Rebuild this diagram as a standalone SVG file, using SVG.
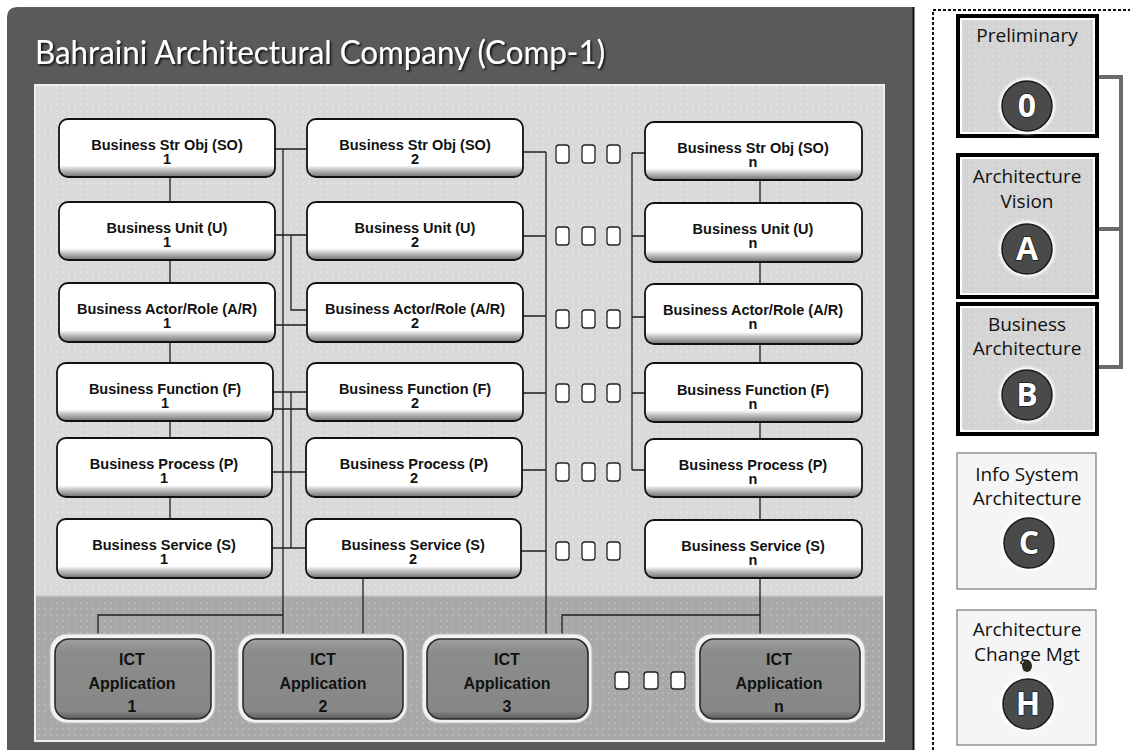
<svg xmlns="http://www.w3.org/2000/svg" width="1130" height="750" viewBox="0 0 1130 750">
<defs>
  <pattern id="dots" width="6" height="6" patternUnits="userSpaceOnUse">
    <rect width="6" height="6" fill="#d9d9d9"/>
    <circle cx="3" cy="3" r="0.7" fill="#f4f4f4"/>
  </pattern>
  <pattern id="dotsDark" width="6" height="6" patternUnits="userSpaceOnUse">
    <rect width="6" height="6" fill="#a8a8a8"/>
    <circle cx="3" cy="3" r="0.7" fill="#cfcfcf"/>
  </pattern>
  <pattern id="dotsPanel" width="6" height="6" patternUnits="userSpaceOnUse">
    <rect width="6" height="6" fill="#d4d4d4"/>
    <circle cx="3" cy="3" r="0.7" fill="#ececec"/>
  </pattern>
  <linearGradient id="boxGrad" x1="0" y1="0" x2="0" y2="1">
    <stop offset="0" stop-color="#ffffff"/>
    <stop offset="0.8" stop-color="#ffffff"/>
    <stop offset="0.87" stop-color="#c8c8c8"/>
    <stop offset="1" stop-color="#707070"/>
  </linearGradient>
  <linearGradient id="ictGrad" x1="0" y1="0" x2="0" y2="1">
    <stop offset="0" stop-color="#a0a0a0"/>
    <stop offset="0.15" stop-color="#8c8c8c"/>
    <stop offset="0.9" stop-color="#878787"/>
    <stop offset="1" stop-color="#5a5a5a"/>
  </linearGradient>
  <filter id="tshadow" x="-5%" y="-30%" width="110%" height="160%">
    <feDropShadow dx="1.5" dy="1.5" stdDeviation="1.2" flood-color="#000" flood-opacity="0.9"/>
  </filter>
  <filter id="glow" x="-30%" y="-30%" width="160%" height="160%">
    <feGaussianBlur stdDeviation="1.5"/>
  </filter>
  <style>
    .title { font-family: "Lato", "Liberation Sans", sans-serif; font-size: 33px; fill: #ffffff; }
    .box { fill: url(#boxGrad); stroke: #111; stroke-width: 1.8; }
    .bt { font-family: "Liberation Sans", Arial, sans-serif; font-weight: bold; font-size: 14.5px; fill: #111; text-anchor: middle; }
    .conn { fill: none; stroke: #1e1e1e; stroke-width: 1.3; }
    .dot { fill: #ffffff; stroke: #222; stroke-width: 1.3; }
    .ictOuter { fill: #f2f2f2; stroke: #bdbdbd; stroke-width: 1; }
    .ict { fill: url(#ictGrad); stroke: #2a2a2a; stroke-width: 1.6; }
    .it { font-family: "Liberation Sans", Arial, sans-serif; font-weight: bold; font-size: 16px; fill: #111; text-anchor: middle; }
    .phaseStrong { fill: #ffffff; stroke: #000; stroke-width: 4; }
    .phaseLight { fill: #f5f5f5; stroke: #777; stroke-width: 1.2; }
    .pt { font-family: "Open Sans", "Noto Sans", sans-serif; font-size: 19px; fill: #111; text-anchor: middle; }
    .circ { fill: #4a4a4a; stroke: #1a1a1a; stroke-width: 1.5; }
    .circGlow { fill: #ffffff; }
    .ct { font-family: "Open Sans", "Liberation Sans", sans-serif; font-weight: bold; font-size: 32px; fill: #ffffff; stroke: #1a1a1a; stroke-width: 1.5; paint-order: stroke; text-anchor: middle; }
    .bracket { fill: none; stroke: #6a6a6a; stroke-width: 4; }
  </style>
</defs>

<!-- background -->
<rect width="1130" height="750" fill="#ffffff"/>

<!-- outer dark panel -->
<path d="M7,750 V18 Q7,7 18,7 H913 V750 Z" fill="#5a5a5a"/>
<line x1="913.5" y1="7" x2="913.5" y2="750" stroke="#111" stroke-width="2"/>
<text class="title" x="35" y="64" textLength="570" lengthAdjust="spacingAndGlyphs" filter="url(#tshadow)">Bahraini Architectural Company (Comp-1)</text>

<!-- inner panel -->
<rect x="35" y="85" width="849" height="656" fill="url(#dots)" stroke="#eeeeee" stroke-width="2"/>
<rect x="36" y="596" width="847" height="144" fill="url(#dotsDark)"/>
<line x1="36" y1="596" x2="883" y2="596" stroke="#c4c4c4" stroke-width="1"/>

<!-- connectors -->
<g id="connectors">
  <path class="conn" d="M170,177 V203 M170,259 V283 M170,341 V363 M170,421 V438 M170,496 V519"/>
  <path class="conn" d="M760,180 V203 M760,261 V284 M760,342 V363 M760,421 V439 M760,497 V520 M760,578 V637"/>
  <path class="conn" d="M274,149 H306 M274,235 H306 M274,325 H306 M273,392 H306 M273,409 H306 M272,472 H306 M272,548 H306"/>
  <path class="conn" d="M283,149 V637"/>
  <path class="conn" d="M283,615 H98 V637"/>
  <path class="conn" d="M291,235 V310 H306"/>
  <path class="conn" d="M291,392 V548"/>
  <path class="conn" d="M363,577 V637"/>
  <path class="conn" d="M523,152 H546 M523,236 H546 M523,316 H546 M523,393 H546 M522,470 H546 M521,551 H546"/>
  <path class="conn" d="M546,152 V637"/>
  <path class="conn" d="M632,153 V470 M632,153 H645 M632,236 H645 M632,317 H645 M632,393 H645 M632,470 H645"/>
  <path class="conn" d="M760,615 H562 V637"/>
  <path class="bracket" d="M1098,77 H1121 V367 H1097 M1098,229 H1121"/>
</g>

<!-- ellipsis dots -->
<g id="ellipsis">
  <rect class="dot" x="556" y="145" width="13" height="18" rx="3"/>
  <rect class="dot" x="582" y="145" width="13" height="18" rx="3"/>
  <rect class="dot" x="607" y="145" width="13" height="18" rx="3"/>
  <rect class="dot" x="556" y="227" width="13" height="18" rx="3"/>
  <rect class="dot" x="582" y="227" width="13" height="18" rx="3"/>
  <rect class="dot" x="607" y="227" width="13" height="18" rx="3"/>
  <rect class="dot" x="556" y="310" width="13" height="18" rx="3"/>
  <rect class="dot" x="582" y="310" width="13" height="18" rx="3"/>
  <rect class="dot" x="607" y="310" width="13" height="18" rx="3"/>
  <rect class="dot" x="556" y="384" width="13" height="18" rx="3"/>
  <rect class="dot" x="582" y="384" width="13" height="18" rx="3"/>
  <rect class="dot" x="607" y="384" width="13" height="18" rx="3"/>
  <rect class="dot" x="556" y="463" width="13" height="18" rx="3"/>
  <rect class="dot" x="582" y="463" width="13" height="18" rx="3"/>
  <rect class="dot" x="607" y="463" width="13" height="18" rx="3"/>
  <rect class="dot" x="556" y="542" width="13" height="18" rx="3"/>
  <rect class="dot" x="582" y="542" width="13" height="18" rx="3"/>
  <rect class="dot" x="607" y="542" width="13" height="18" rx="3"/>
  <rect class="dot" x="615" y="672" width="14" height="17" rx="3"/>
  <rect class="dot" x="644" y="672" width="14" height="17" rx="3"/>
  <rect class="dot" x="671" y="672" width="14" height="17" rx="3"/>
</g>

<!-- column 1 -->
<g id="so1"><rect class="box" x="59" y="119" width="216" height="58" rx="9"/><text class="bt" x="167" y="150">Business Str Obj (SO)</text><text class="bt" x="167" y="164">1</text></g>
<g id="u1"><rect class="box" x="59" y="202" width="216" height="58" rx="9"/><text class="bt" x="167" y="233">Business Unit (U)</text><text class="bt" x="167" y="247">1</text></g>
<g id="ar1"><rect class="box" x="59" y="283" width="216" height="59" rx="9"/><text class="bt" x="167" y="314">Business Actor/Role (A/R)</text><text class="bt" x="167" y="328">1</text></g>
<g id="f1"><rect class="box" x="57" y="363" width="216" height="58" rx="9"/><text class="bt" x="165" y="394">Business Function (F)</text><text class="bt" x="165" y="408">1</text></g>
<g id="p1"><rect class="box" x="57" y="438" width="215" height="59" rx="9"/><text class="bt" x="164" y="469">Business Process (P)</text><text class="bt" x="164" y="483">1</text></g>
<g id="s1"><rect class="box" x="57" y="519" width="215" height="59" rx="9"/><text class="bt" x="164" y="550">Business Service (S)</text><text class="bt" x="164" y="564">1</text></g>

<!-- column 2 -->
<g id="so2"><rect class="box" x="307" y="119" width="216" height="58" rx="9"/><text class="bt" x="415" y="150">Business Str Obj (SO)</text><text class="bt" x="415" y="164">2</text></g>
<g id="u2"><rect class="box" x="307" y="202" width="216" height="58" rx="9"/><text class="bt" x="415" y="233">Business Unit (U)</text><text class="bt" x="415" y="247">2</text></g>
<g id="ar2"><rect class="box" x="307" y="283" width="216" height="59" rx="9"/><text class="bt" x="415" y="314">Business Actor/Role (A/R)</text><text class="bt" x="415" y="328">2</text></g>
<g id="f2"><rect class="box" x="307" y="363" width="216" height="58" rx="9"/><text class="bt" x="415" y="394">Business Function (F)</text><text class="bt" x="415" y="408">2</text></g>
<g id="p2"><rect class="box" x="306" y="438" width="216" height="59" rx="9"/><text class="bt" x="414" y="469">Business Process (P)</text><text class="bt" x="414" y="483">2</text></g>
<g id="s2"><rect class="box" x="306" y="519" width="215" height="59" rx="9"/><text class="bt" x="413" y="550">Business Service (S)</text><text class="bt" x="413" y="564">2</text></g>

<!-- column n -->
<g id="son"><rect class="box" x="645" y="122" width="217" height="58" rx="9"/><text class="bt" x="753" y="153">Business Str Obj (SO)</text><text class="bt" x="753" y="167">n</text></g>
<g id="un"><rect class="box" x="645" y="203" width="217" height="59" rx="9"/><text class="bt" x="753" y="234">Business Unit (U)</text><text class="bt" x="753" y="248">n</text></g>
<g id="arn"><rect class="box" x="645" y="284" width="217" height="60" rx="9"/><text class="bt" x="753" y="315">Business Actor/Role (A/R)</text><text class="bt" x="753" y="329">n</text></g>
<g id="fn"><rect class="box" x="645" y="363" width="217" height="59" rx="9"/><text class="bt" x="753" y="395">Business Function (F)</text><text class="bt" x="753" y="409">n</text></g>
<g id="pn"><rect class="box" x="645" y="439" width="217" height="58" rx="9"/><text class="bt" x="753" y="470">Business Process (P)</text><text class="bt" x="753" y="484">n</text></g>
<g id="sn"><rect class="box" x="645" y="520" width="217" height="58" rx="9"/><text class="bt" x="753" y="551">Business Service (S)</text><text class="bt" x="753" y="565">n</text></g>

<!-- ICT applications -->
<g id="ict1"><rect class="ictOuter" x="50" y="634" width="165" height="89" rx="17"/><rect class="ict" x="55" y="639" width="156" height="80" rx="14"/><text class="it" x="132" y="665">ICT</text><text class="it" x="132" y="689">Application</text><text class="it" x="132" y="712">1</text></g>
<g id="ict2"><rect class="ictOuter" x="238" y="634" width="169" height="89" rx="17"/><rect class="ict" x="243" y="639" width="160" height="80" rx="14"/><text class="it" x="323" y="665">ICT</text><text class="it" x="323" y="689">Application</text><text class="it" x="323" y="712">2</text></g>
<g id="ict3"><rect class="ictOuter" x="422" y="634" width="170" height="89" rx="17"/><rect class="ict" x="427" y="639" width="161" height="80" rx="14"/><text class="it" x="507" y="665">ICT</text><text class="it" x="507" y="689">Application</text><text class="it" x="507" y="712">3</text></g>
<g id="ictn"><rect class="ictOuter" x="695" y="634" width="170" height="89" rx="17"/><rect class="ict" x="700" y="639" width="160" height="80" rx="14"/><text class="it" x="779" y="665">ICT</text><text class="it" x="779" y="689">Application</text><text class="it" x="779" y="712">n</text></g>

<!-- right panel -->
<path d="M933,750 V10 H1130" fill="none" stroke="#111" stroke-width="2" stroke-dasharray="3,2"/>

<g id="phase0">
  <rect class="phaseStrong" x="958" y="16" width="139" height="120"/>
  <rect x="962" y="20" width="131" height="112" fill="url(#dotsPanel)"/>
  <text class="pt" x="1027" y="42">Preliminary</text>
  <circle class="circGlow" cx="1027" cy="106" r="28" filter="url(#glow)"/>
  <circle class="circ" cx="1027" cy="106" r="25"/>
  <text class="ct" x="1027" y="117">0</text>
</g>
<g id="phaseA">
  <rect class="phaseStrong" x="958" y="155" width="139" height="142"/>
  <rect x="962" y="159" width="131" height="134" fill="url(#dotsPanel)"/>
  <text class="pt" x="1027" y="183">Architecture</text>
  <text class="pt" x="1027" y="208">Vision</text>
  <circle class="circGlow" cx="1027" cy="249" r="28" filter="url(#glow)"/>
  <circle class="circ" cx="1027" cy="249" r="25"/>
  <text class="ct" x="1027" y="260">A</text>
</g>
<g id="phaseB">
  <rect class="phaseStrong" x="958" y="304" width="139" height="130"/>
  <rect x="962" y="308" width="131" height="122" fill="url(#dotsPanel)"/>
  <text class="pt" x="1027" y="331">Business</text>
  <text class="pt" x="1027" y="355">Architecture</text>
  <circle class="circGlow" cx="1027" cy="395" r="28" filter="url(#glow)"/>
  <circle class="circ" cx="1027" cy="395" r="25"/>
  <text class="ct" x="1027" y="406">B</text>
</g>
<g id="phaseC">
  <rect class="phaseLight" x="957" y="453" width="139" height="136"/>
  <text class="pt" x="1027" y="481">Info System</text>
  <text class="pt" x="1027" y="505">Architecture</text>
  <circle class="circGlow" cx="1029" cy="543" r="28" filter="url(#glow)"/>
  <circle class="circ" cx="1029" cy="543" r="25"/>
  <text class="ct" x="1029" y="554">C</text>
</g>
<g id="phaseH">
  <rect class="phaseLight" x="957" y="610" width="139" height="135"/>
  <text class="pt" x="1027" y="636">Architecture</text>
  <text class="pt" x="1027" y="661">Change Mgt</text>
  <ellipse cx="1027" cy="666" rx="5" ry="6" fill="#2b2a1c"/>
  <circle class="circGlow" cx="1028" cy="704" r="28" filter="url(#glow)"/>
  <circle class="circ" cx="1028" cy="704" r="25"/>
  <text class="ct" x="1028" y="715">H</text>
</g>
</svg>
